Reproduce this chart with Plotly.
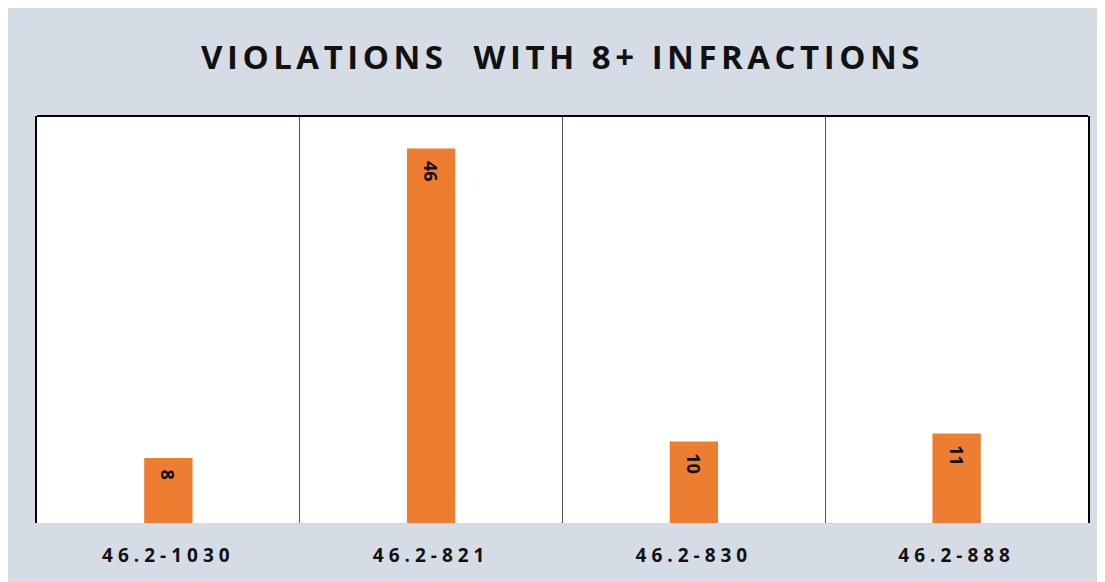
import plotly.graph_objects as go

categories = ["46.2-1030", "46.2-821", "46.2-830", "46.2-888"]
values = [8, 46, 10, 11]
title_text = "VIOLATIONS  WITH 8+ INFRACTIONS"

BG = "#d6dce5"
ORANGE = "#ed7d31"

fig = go.Figure()
fig.add_trace(go.Bar(
    x=categories, y=values,
    marker=dict(color=ORANGE, line=dict(width=0)),
    hoverinfo="x+y",
))

for c, v in zip(categories, values):
    fig.add_annotation(
        x=c, y=v, xref="x", yref="y",
        text=str(v), textangle=90, showarrow=False,
        yanchor="top", xanchor="center", yshift=-10,
        font=dict(family="Open Sans", size=18, color="#111111", weight="bold"),
    )

fig.update_layout(
    width=1105, height=582,
    margin=dict(l=29, r=25, t=108, b=67),
    paper_bgcolor=BG, plot_bgcolor="white",
    bargap=0.816,
    showlegend=False,
    title=dict(
        text=title_text, x=0.5, xref="paper", y=1 - 49 / 582, yref="container",
        xanchor="center", yanchor="middle",
        font=dict(family="Open Sans", size=33, color="#111111", weight="bold"),
    ),
    xaxis=dict(
        type="category", tickson="boundaries", showgrid=True,
        gridcolor="#555555", gridwidth=1,
        showline=True, linecolor="#d9d9d9", linewidth=1,
        ticks="", ticklabelstandoff=15,
        tickfont=dict(family="Open Sans", size=19, color="#111111", weight="bold"),
        zeroline=False,
    ),
    yaxis=dict(
        range=[0, 50], showgrid=False, zeroline=False,
        showticklabels=False, ticks="",
        showline=True, mirror=True, linecolor="black", linewidth=2,
    ),
    shapes=[
        dict(type="line", xref="paper", yref="paper", x0=0, x1=1, y0=1, y1=1,
             line=dict(color="black", width=2), layer="above"),
    ],
)

css = (".gtitle{letter-spacing:4.5px;white-space:pre !important;}"
       ".xtick text{letter-spacing:5px;}")
post = ("var s=document.createElement('style');s.textContent='" + css +
        "';document.head.appendChild(s);")

fig.write_html("out.html", post_script=post)
